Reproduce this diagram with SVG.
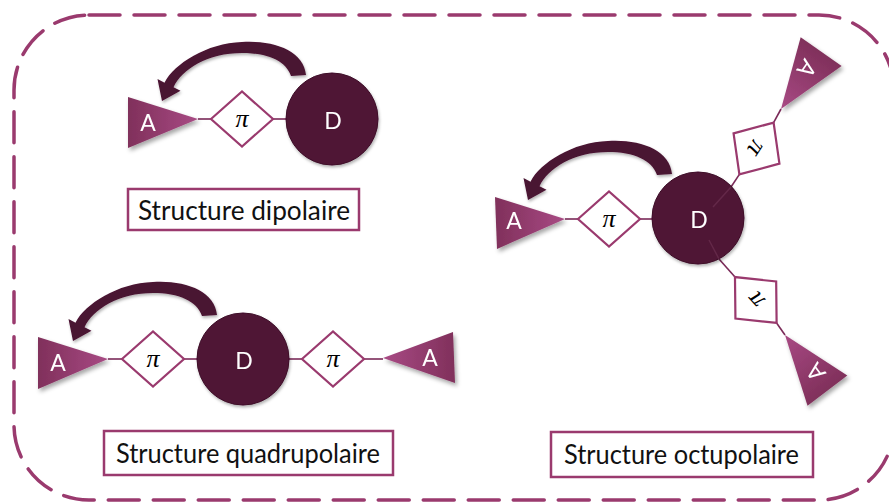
<svg xmlns="http://www.w3.org/2000/svg" width="889" height="504" viewBox="0 0 889 504">
<style>
.frame{fill:none;stroke:#9a3a6e;stroke-width:3.5;stroke-dasharray:31 14;stroke-linecap:round}
.tri-l{fill:url(#gL)}
.tri-r{fill:url(#gR)}
.dia{fill:#fff;stroke:#9a3a6e;stroke-width:2.2}
.don{fill:#4f1534;stroke:#3e0f29;stroke-width:1}
.arr{fill:#4a1231}
.lnk{stroke:#7a2a58;stroke-width:1.6;fill:none}
.faint{stroke:#8a4a6c;stroke-width:1.4;opacity:0.35}
.wt{fill:#fff;font-family:Lato,"Open Sans",sans-serif;font-size:23px;text-anchor:middle;dominant-baseline:central}
.pi{fill:#000;font-family:"Liberation Serif","DejaVu Serif",serif;font-style:italic;font-size:26px;text-anchor:middle}
.box{fill:#fff;stroke:#9a3a6e;stroke-width:2.5}
.lbl{fill:#111;font-family:Lato,"Open Sans",sans-serif;font-size:26px}
</style>
<defs>
<linearGradient id="gL" x1="0" y1="0" x2="1" y2="0"><stop offset="0" stop-color="#80305b"/><stop offset="1" stop-color="#a84a84"/></linearGradient>
<linearGradient id="gR" x1="1" y1="0" x2="0" y2="0"><stop offset="0" stop-color="#80305b"/><stop offset="1" stop-color="#a84a84"/></linearGradient>
<filter id="sh" x="-30%" y="-30%" width="160%" height="160%"><feDropShadow dx="2" dy="3" stdDeviation="2" flood-color="#000" flood-opacity="0.35"/></filter>
<filter id="sh2" x="-30%" y="-30%" width="160%" height="160%"><feDropShadow dx="1" dy="2" stdDeviation="1.5" flood-color="#000" flood-opacity="0.3"/></filter>
<path id="arrow" class="arr" d="M -26,-44 C -28,-68 -58,-79 -90,-77 C -125,-76 -158,-55 -167.5,-36.3 L -174.5,-40 L -170,-18 L -151.5,-28.2 L -158.5,-31.8 C -150,-50 -124,-66 -90,-66 C -64,-66 -46,-58 -41,-43 Z"/>
<polygon id="diamond" class="dia" points="-31,0 0,-27.5 31,0 0,27.5"/>
</defs>
<rect class="frame" x="14" y="15" width="880" height="485" rx="75" ry="75"/>

<g id="connectors">
<line class="lnk" x1="198" y1="119" x2="211" y2="119"/>
<line class="lnk" x1="273" y1="119" x2="287" y2="119"/>
<line class="lnk" x1="108" y1="359" x2="122" y2="359"/>
<line class="lnk" x1="184" y1="359" x2="198" y2="359"/>
<line class="lnk" x1="288" y1="359" x2="302" y2="359"/>
<line class="lnk" x1="364" y1="359" x2="383" y2="359"/>
<line class="lnk" x1="565" y1="219" x2="578" y2="219"/>
<line class="lnk" x1="640" y1="219" x2="653" y2="219"/>
<line class="lnk" x1="739.4" y1="174.4" x2="731" y2="187"/>
<line class="lnk" x1="773.6" y1="122.7" x2="781" y2="109"/>
<line class="lnk" x1="735" y1="277" x2="719" y2="259"/>
<line class="lnk" x1="776.6" y1="323" x2="785" y2="335"/>
</g>

<g id="dipolar">
<g id="dip-A" filter="url(#sh)"><polygon class="tri-l" points="198,119 128,97 128,148"/><text class="wt" x="148" y="122">A</text></g>
<g id="dip-pi"><use href="#diamond" x="242" y="119"/><text class="pi" x="242" y="127">π</text></g>
<g id="dip-D" filter="url(#sh2)"><circle class="don" cx="332" cy="119" r="46"/><text class="wt" x="333" y="120">D</text></g>
<g id="dip-arrow" filter="url(#sh2)"><use href="#arrow" transform="translate(332,119)"/></g>
<g id="dip-label"><rect class="box" x="128" y="189" width="231" height="41"/><text class="lbl" x="138" y="220" textLength="212" lengthAdjust="spacingAndGlyphs">Structure dipolaire</text></g>
</g>

<g id="quadrupolar">
<g id="quad-A1" filter="url(#sh)"><polygon class="tri-l" points="108,359 38,337 38,389"/><text class="wt" x="58" y="362">A</text></g>
<g id="quad-pi1"><use href="#diamond" x="153" y="359"/><text class="pi" x="153" y="367">π</text></g>
<g id="quad-D" filter="url(#sh2)"><circle class="don" cx="243" cy="359" r="46"/><text class="wt" x="244" y="360">D</text></g>
<g id="quad-pi2"><use href="#diamond" x="333" y="359"/><text class="pi" x="333" y="367">π</text></g>
<g id="quad-A2" filter="url(#sh)"><polygon class="tri-r" points="383,358 453,332 455,383"/><text class="wt" x="430" y="357">A</text></g>
<g id="quad-arrow" filter="url(#sh2)"><use href="#arrow" transform="translate(243,359)"/></g>
<g id="quad-label"><rect class="box" x="104" y="431" width="289" height="44"/><text class="lbl" x="116" y="463" textLength="264" lengthAdjust="spacingAndGlyphs">Structure quadrupolaire</text></g>
</g>

<g id="octupolar">
<g id="oct-A1" filter="url(#sh)"><polygon class="tri-l" points="565,219 495,197 497,249"/><text class="wt" x="514" y="220">A</text></g>
<g id="oct-pi1"><use href="#diamond" x="609" y="219"/><text class="pi" x="609" y="227">π</text></g>
<g id="oct-pi2" transform="translate(756.5,148.5) rotate(123.5)"><use href="#diamond"/><text class="pi" x="0" y="8">π</text></g>
<g id="oct-pi3" transform="translate(755.8,300) rotate(-132.2)"><use href="#diamond"/><text class="pi" x="0" y="8">π</text></g>
<g id="oct-A2" filter="url(#sh)"><g transform="translate(781,109) rotate(125)"><polygon class="tri-l" points="0,0 -70,-25 -70,25"/><text class="wt" x="-48" y="1">A</text></g></g>
<g id="oct-A3" filter="url(#sh)"><g transform="translate(785,335) rotate(-127.3)"><polygon class="tri-l" points="0,0 -70,-25 -70,25"/><text class="wt" x="-48" y="1">A</text></g></g>
<g id="oct-D" filter="url(#sh2)"><circle class="don" cx="698" cy="218" r="46"/><text class="wt" x="699" y="219">D</text></g>
<line class="faint" x1="731" y1="187" x2="713" y2="207"/>
<line class="faint" x1="719" y1="259" x2="709" y2="240"/>
<g id="oct-arrow" filter="url(#sh2)"><use href="#arrow" transform="translate(698,218)"/></g>
<g id="oct-label"><rect class="box" x="551" y="432" width="262" height="45"/><text class="lbl" x="564" y="464" textLength="235" lengthAdjust="spacingAndGlyphs">Structure octupolaire</text></g>
</g>
</svg>
